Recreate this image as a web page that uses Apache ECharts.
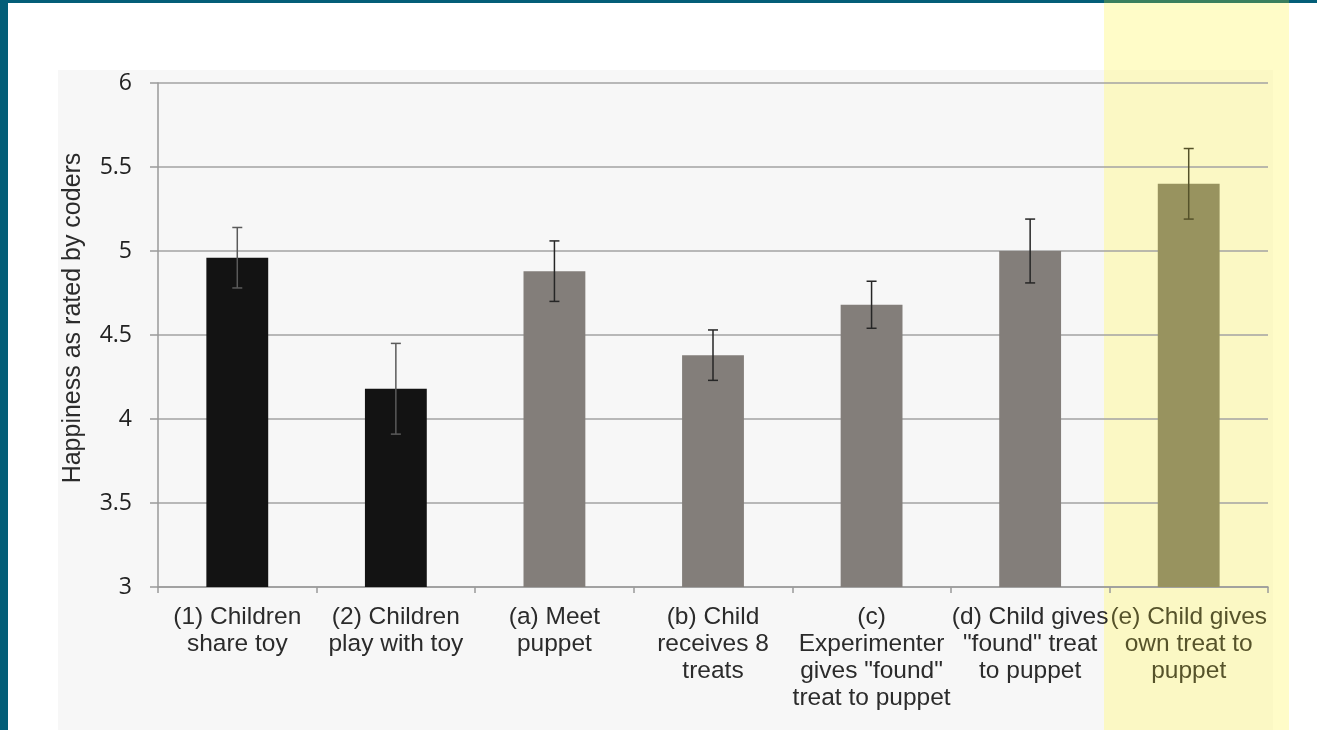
<!DOCTYPE html>
<html>
<head>
<meta charset="utf-8">
<title>Happiness as rated by coders</title>
<script src="https://cdn.jsdelivr.net/npm/echarts@6/dist/echarts.min.js"></script>
<style>
  html, body { margin: 0; padding: 0; background: #ffffff; }
  #chart { width: 1317px; height: 730px; }
</style>
</head>
<body>
<div id="chart"></div>
<script>
// Conditions shown along the x axis
const categories = [
  '(1) Children\nshare toy',
  '(2) Children\nplay with toy',
  '(a) Meet\npuppet',
  '(b) Child\nreceives 8\ntreats',
  '(c)\nExperimenter\ngives "found"\ntreat to puppet',
  '(d) Child gives\n"found" treat\nto puppet',
  '(e) Child gives\nown treat to\npuppet'
];

// Mean happiness rating per condition
const means = [4.96, 4.18, 4.88, 4.38, 4.68, 5.00, 5.40];

// Standard error per condition
const errors = [0.18, 0.27, 0.18, 0.15, 0.14, 0.19, 0.21];

// Value axis range
const yMin = 3;
const yMax = 6;
const yStep = 0.5;

// Bar fills: baseline trials black, puppet trials gray, highlighted trial olive
const barColors = ['#131313', '#131313', '#837e7a', '#837e7a', '#837e7a', '#837e7a', '#98935f'];
const whiskerColors = ['#5a5a5a', '#5a5a5a', '#262626', '#262626', '#262626', '#262626', '#55522a'];
const labelColors = ['#2b2b2b', '#2b2b2b', '#2b2b2b', '#2b2b2b', '#2b2b2b', '#2b2b2b', '#56532a'];

const chart = echarts.init(document.getElementById('chart'), null, { renderer: 'canvas' });

const option = {
  backgroundColor: '#ffffff',
  animation: false,
  graphic: [
    // light panel behind the plot
    { type: 'rect', z: -20, silent: true, shape: { x: 58, y: 70, width: 1215, height: 660 }, style: { fill: '#f7f7f7' } },
    // highlight band for the last condition
    { type: 'rect', z: -19, silent: true, shape: { x: 1104, y: 0, width: 185, height: 730 }, style: { fill: 'rgba(255,249,145,0.5)' } },
    // frame edges
    { type: 'rect', z: 10, silent: true, shape: { x: 0, y: 0, width: 1317, height: 3 }, style: { fill: '#035e78' } },
    { type: 'rect', z: 11, silent: true, shape: { x: 1104, y: 0, width: 185, height: 3 }, style: { fill: '#3a7f5e' } },
    { type: 'rect', z: 10, silent: true, shape: { x: 0, y: 0, width: 8, height: 730 }, style: { fill: '#035e78' } }
  ],
  grid: { left: 158, right: 49, top: 83, bottom: 143, containLabel: false },
  xAxis: {
    type: 'category',
    data: categories,
    boundaryGap: true,
    axisLine: { show: true, lineStyle: { color: '#9a9a9a', width: 1.5 } },
    axisTick: { show: true, length: 6, inside: false, lineStyle: { color: '#9a9a9a', width: 1.5 } },
    axisLabel: {
      interval: 0,
      margin: 17,
      fontFamily: '"Liberation Sans", Arial, sans-serif',
      fontSize: 24.5,
      lineHeight: 27,
      color: function (value, index) { return labelColors[index]; }
    },
    splitLine: { show: false }
  },
  yAxis: {
    type: 'value',
    min: yMin,
    max: yMax,
    interval: yStep,
    name: 'Happiness as rated by coders',
    nameLocation: 'middle',
    nameGap: 72,
    nameRotate: 90,
    nameTextStyle: {
      fontFamily: '"Liberation Sans", Arial, sans-serif',
      fontSize: 25,
      color: '#2b2b2b',
      padding: [0, 0, 0, 34]
    },
    axisLine: { show: true, lineStyle: { color: '#9a9a9a', width: 1.5 } },
    axisTick: { show: true, length: 8, lineStyle: { color: '#9a9a9a', width: 1.5 } },
    axisLabel: {
      margin: 26,
      fontFamily: '"Open Sans", sans-serif',
      fontSize: 23,
      color: '#222222'
    },
    splitLine: { show: true, lineStyle: { color: '#a3a3a3', width: 1.5 } }
  },
  series: [
    {
      type: 'bar',
      data: means.map(function (v, i) {
        return { value: v, itemStyle: { color: barColors[i] } };
      }),
      barWidth: '39%',
      z: 2
    },
    {
      type: 'custom',
      z: 3,
      data: means.map(function (v, i) { return [i, v - errors[i], v + errors[i]]; }),
      renderItem: function (params, api) {
        const idx = api.value(0);
        const lo = api.coord([idx, api.value(1)]);
        const hi = api.coord([idx, api.value(2)]);
        const half = 5;
        const col = whiskerColors[idx];
        const st = { stroke: col, lineWidth: 1.5 };
        return {
          type: 'group',
          children: [
            { type: 'line', shape: { x1: hi[0], y1: hi[1], x2: lo[0], y2: lo[1] }, style: st },
            { type: 'line', shape: { x1: hi[0] - half, y1: hi[1], x2: hi[0] + half, y2: hi[1] }, style: st },
            { type: 'line', shape: { x1: lo[0] - half, y1: lo[1], x2: lo[0] + half, y2: lo[1] }, style: st }
          ]
        };
      }
    }
  ]
};

chart.setOption(option);
</script>
</body>
</html>
